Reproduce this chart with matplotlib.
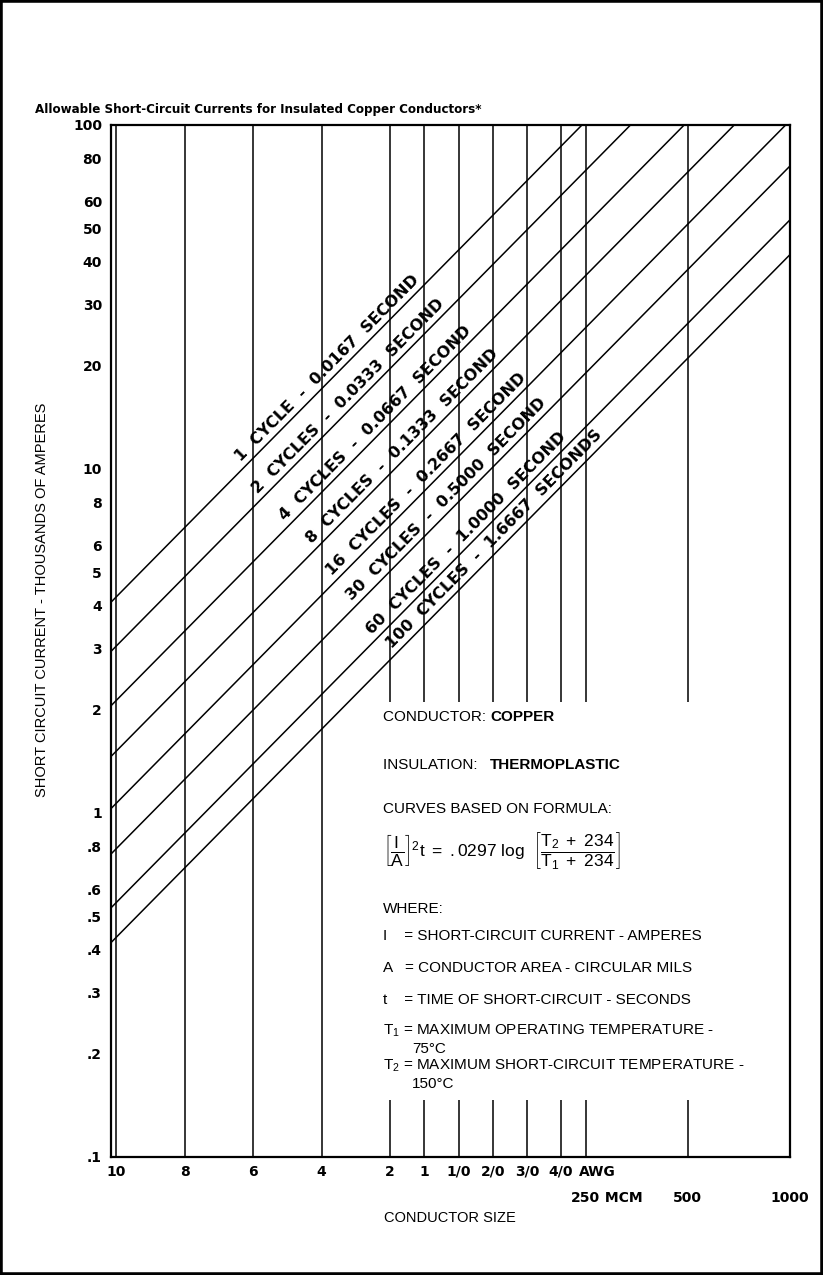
import numpy as np
import matplotlib.pyplot as plt
from matplotlib.patches import Rectangle
from matplotlib.ticker import NullLocator

plt.rcParams['font.family'] = ['Liberation Sans', 'DejaVu Sans']
plt.rcParams['mathtext.fontset'] = 'custom'
plt.rcParams['mathtext.rm'] = 'Liberation Sans'
plt.rcParams['mathtext.it'] = 'Liberation Sans:italic'
plt.rcParams['mathtext.bf'] = 'Liberation Sans:bold'

# conductor sizes in circular mils
awg_cmil = [10380, 16510, 26240, 41740, 66360, 83690, 105600, 133100, 167800, 211600]
awg_labels = ['10', '8', '6', '4', '2', '1', '1/0', '2/0', '3/0', '4/0']
mcm_cmil = [250000, 500000, 1000000]
mcm_labels = ['250', '500', '1000']

# short-circuit current (kA) of each curve, read at both edges of the chart
curve_x = [10000, 1000000]
curve_left = [4.1, 2.95, 2.05, 1.46, 1.03, 0.76, 0.53, 0.42]
curve_right = [410, 295, 205, 146, 103, 76, 53, 42]
curve_labels = ['1  CYCLE  -  0.0167  SECOND',
                '2  CYCLES  -  0.0333  SECOND',
                '4  CYCLES  -  0.0667  SECOND',
                '8  CYCLES  -  0.1333  SECOND',
                '16  CYCLES  -  0.2667  SECOND',
                '30  CYCLES  -  0.5000  SECOND',
                '60  CYCLES  -  1.0000  SECOND',
                '100  CYCLES  -  1.6667  SECONDS']
label_start = [24800, 27900, 33600, 40300, 46200, 52900, 60500, 69400]

ytick_vals = [100, 80, 60, 50, 40, 30, 20, 10, 8, 6, 5, 4, 3, 2, 1, .8, .6, .5, .4, .3, .2, .1]
ytick_labels = ['100', '80', '60', '50', '40', '30', '20', '10', '8', '6', '5', '4', '3', '2',
                '1', '.8', '.6', '.5', '.4', '.3', '.2', '.1']

W, H = 823, 1275
fig = plt.figure(figsize=(W / 100, H / 100), dpi=100)
ax = fig.add_axes([111 / W, 1 - 1157 / H, 679 / W, 1032 / H])
ax.set_xscale('log')
ax.set_yscale('log')
ax.set_xlim(10000, 1e6)
ax.set_ylim(0.1, 100)

for s in ax.spines.values():
    s.set_linewidth(1.6)

# vertical lines at each conductor size
for x in awg_cmil + mcm_cmil[:-1]:
    ax.axvline(x, color='black', lw=1.1, zorder=2)

# diagonal curves
for l, r in zip(curve_left, curve_right):
    ax.plot(curve_x, [l, r], color='black', lw=1.1, zorder=2)

# angle of the curves on screen
p0 = ax.transData.transform((1e4, 1.0))
p1 = ax.transData.transform((1e5, 10.0))
ang = np.degrees(np.arctan2(p1[1] - p0[1], p1[0] - p0[0]))

for lab, xs, l, r in zip(curve_labels, label_start, curve_left, curve_right):
    ys = 10 ** np.interp(np.log10(xs), np.log10(curve_x), np.log10([l, r]))
    ax.annotate(lab, xy=(xs, ys), xytext=(-1.5, 1.5), textcoords='offset points',
                rotation=ang, rotation_mode='anchor', ha='left', va='bottom',
                fontsize=11.5, fontweight='bold', family='DejaVu Sans', zorder=4)

# white area for the notes
ax.add_patch(Rectangle(((377 - 111) / 679, (1157 - 1100) / 1032), (787 - 377) / 679,
                       (1100 - 702) / 1032, transform=ax.transAxes,
                       facecolor='white', edgecolor='none', zorder=3))

ax.set_yticks(ytick_vals, ytick_labels, fontsize=10, fontweight='bold', family='DejaVu Sans')
ax.yaxis.set_minor_locator(NullLocator())
ax.set_xticks(awg_cmil, awg_labels, fontsize=10, fontweight='bold', family='DejaVu Sans')
ax.xaxis.set_minor_locator(NullLocator())
ax.tick_params(axis='both', length=0)
ax.tick_params(axis='y', pad=6.5)
ax.tick_params(axis='x', pad=5.5)

ax.annotate('AWG', xy=(211600, 0), xycoords=('data', 'axes fraction'), xytext=(18, -15),
            textcoords='offset pixels', ha='left', va='center', fontsize=10,
            fontweight='bold', family='DejaVu Sans')
for x, lab in zip(mcm_cmil, mcm_labels):
    t = ax.annotate(lab, xy=(x, 0), xycoords=('data', 'axes fraction'), xytext=(0, -41),
                    textcoords='offset pixels', ha='center', va='center', fontsize=10,
                    fontweight='bold', family='DejaVu Sans')
    if lab == '250':
        ax.annotate(' MCM', xy=(1, 0), xycoords=t, ha='left', va='bottom', fontsize=10,
                    fontweight='bold', family='DejaVu Sans')

fig.text(450 / W, 1 - 1218 / H, 'CONDUCTOR SIZE', ha='center', va='center', fontsize=10.5)
fig.text(42 / W, 1 - 600 / H, 'SHORT CIRCUIT CURRENT - THOUSANDS OF AMPERES',
         rotation=90, ha='center', va='center', fontsize=10.5)
fig.text(35 / W, 1 - 110 / H,
         'Allowable Short-Circuit Currents for Insulated Copper Conductors*',
         ha='left', va='center', fontsize=9.5, fontweight='bold',
         family='DejaVu Sans', fontstretch='condensed')

# notes
tx = 383 / W
def note(y, s, size=11, **kw):
    return fig.text(tx, 1 - y / H, s, ha='left', va='center', fontsize=size, zorder=5, **kw)

t = note(717, 'CONDUCTOR: ')
ax.annotate('COPPER', xy=(1, 0), xycoords=t, ha='left', va='bottom', fontsize=11,
            fontweight='bold', zorder=5)
t = note(765, 'INSULATION:   ')
ax.annotate('THERMOPLASTIC', xy=(1, 0), xycoords=t, ha='left', va='bottom', fontsize=11,
            fontweight='bold', zorder=5)
note(809, 'CURVES BASED ON FORMULA:')
note(851, r'$\left[\dfrac{\mathrm{I}}{\mathrm{A}}\right]^{2}\mathrm{t}\ =\ .0297\ \mathrm{log}\ \ '
          r'\left[\dfrac{\mathrm{T_2\ +\ 234}}{\mathrm{T_1\ +\ 234}}\right]$', size=12.5)
note(909, 'WHERE:')
note(936, 'I    = SHORT-CIRCUIT CURRENT - AMPERES')
note(968, 'A   = CONDUCTOR AREA - CIRCULAR MILS')
note(1000, 't    = TIME OF SHORT-CIRCUIT - SECONDS')
note(1031, r'T$_1$ = MAXIMUM OPERATING TEMPERATURE -')
fig.text(412 / W, 1 - 1049 / H, '75°C', ha='left', va='center', fontsize=11)
note(1066, r'T$_2$ = MAXIMUM SHORT-CIRCUIT TEMPERATURE -')
fig.text(412 / W, 1 - 1084 / H, '150°C', ha='left', va='center', fontsize=11)

fig.add_artist(Rectangle((0, 0), 1, 1, transform=fig.transFigure, fill=False,
                         linewidth=4, edgecolor='black'))

fig.savefig('out.png', dpi=100)
